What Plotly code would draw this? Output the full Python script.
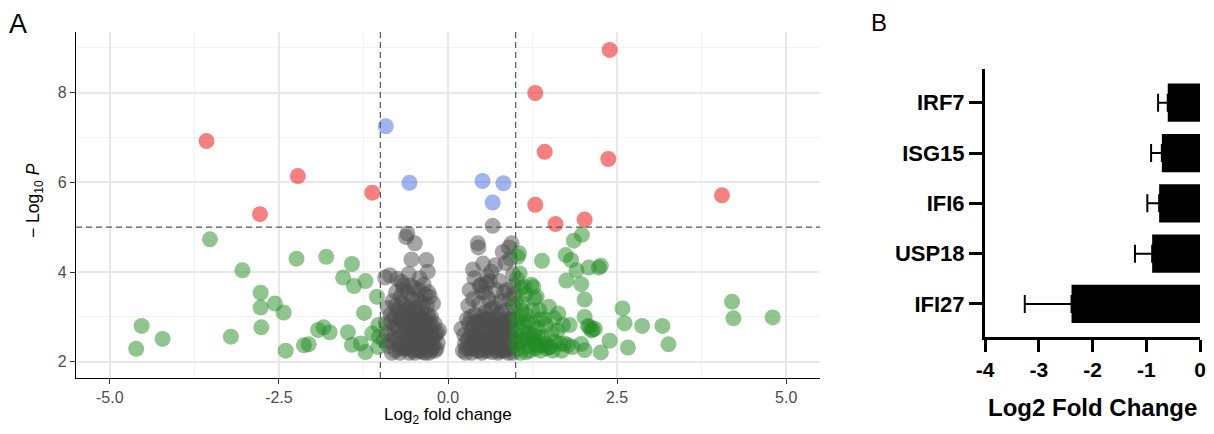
import plotly.graph_objects as go

# The page body has an 8px margin; the figure is sized so that it fits the window,
# and reference pixel positions are converted with an 8px offset.
OFF = 8
W, H = 1214 - 2 * OFF, 434 - 2 * OFF


def px(X):
    return (X - OFF) / W


def py(Y):
    return 1 - (Y - OFF) / H


# ---------------- Panel A: volcano data ----------------
red_x = [-3.57, -2.22, -2.78, -1.12, 2.39, 1.29, 1.43, 2.37, 4.05, 1.29, 1.59, 2.02]
red_y = [6.92, 6.14, 5.29, 5.77, 8.95, 7.99, 6.68, 6.52, 5.71, 5.50, 5.07, 5.17]

blue_x = [-0.92, -0.57, 0.51, 0.82, 0.66]
blue_y = [7.25, 5.99, 6.03, 5.98, 5.55]

green_x = [-3.52, -3.04, -2.24, -1.80, -1.42, -1.55, -1.39, -1.22, -1.05, -2.77,
           -2.77, -2.56, -2.43, -2.76, -3.21, -4.53, -4.22, -4.61, -2.40, -2.13,
           -2.06, -1.92, -1.84, -1.75, -1.48, -1.24, -1.42, -1.29, -1.22, -1.12,
           -1.03, -1.03, -1.02,
           1.98, 1.86, 1.74, 1.82, 1.39, 1.90, 2.08, 2.23, 2.26, 1.75,
           1.97, 2.02, 2.58, 2.61, 2.87, 3.17, 3.26, 2.66, 2.39, 2.26,
           4.20, 4.22, 4.80, 2.02, 2.09, 2.14, 2.02, 1.77, 1.80, 1.57,
           1.63, 1.49, 1.53, 1.51, 1.38, 1.35, 1.28, 1.26, 1.13, 1.23,
           1.06, 1.03, 1.05, 1.11, 1.16, 1.02, 1.06, 1.22, 1.29, 1.45,
           1.70, 1.66, 1.84, 1.97, 2.12, 2.07, 1.04, 1.10, 1.18, 1.32,
           1.40, 1.25, 1.08, 1.14, 1.20, 1.58, 1.44, 1.02, 1.36, 1.12,
           1.31, 1.16, 1.72, 1.50, 1.08, 1.31, 2.17,
           1.00, 1.03, 1.07, 1.09, 1.13, 1.15, 1.19, 1.21, 1.24, 1.27,
           1.30, 1.33, 1.37, 1.42, 1.46, 1.55, 1.62, 1.68, 1.00, 1.01]
green_y = [4.73, 4.04, 4.30, 4.34, 4.18, 3.88, 3.69, 3.80, 3.45, 3.54,
           3.21, 3.30, 3.10, 2.77, 2.56, 2.80, 2.51, 2.29, 2.25, 2.37,
           2.39, 2.71, 2.77, 2.66, 2.66, 3.09, 2.38, 2.41, 2.22, 2.63,
           2.82, 2.33, 2.56,
           4.83, 4.70, 4.38, 4.27, 4.25, 4.04, 4.10, 4.10, 4.14, 3.81,
           3.73, 3.39, 3.19, 2.86, 2.80, 2.80, 2.39, 2.32, 2.47, 2.21,
           3.34, 2.97, 2.99, 3.00, 2.78, 2.72, 2.26, 2.37, 2.82, 2.97,
           3.08, 3.23, 2.63, 2.33, 2.37, 3.15, 3.41, 3.67, 3.67, 3.72,
           3.97, 4.34, 4.42, 2.67, 2.22, 2.60, 3.00, 2.53, 2.46, 2.82,
           2.82, 2.40, 2.33, 2.40, 2.70, 2.80, 2.30, 3.30, 2.90, 2.75,
           2.55, 3.15, 2.45, 3.50, 2.35, 2.45, 2.40, 3.85, 2.95, 2.85,
           3.45, 2.52, 2.41, 2.33, 3.64, 2.37, 2.74,
           2.40, 2.75, 2.20, 3.15, 2.50, 3.05, 2.65, 2.25, 2.85, 2.60,
           2.30, 2.55, 2.25, 2.95, 2.30, 2.25, 2.70, 2.25, 3.30, 2.95]

grey_x = [-0.60, -0.62, -0.49, -0.54, -0.32, -0.30, -0.42, -0.86, -0.93, -0.69,
          -0.27, -0.58, -0.66, -0.75, -0.50, -0.36, -0.22,
          -0.95, -0.90, -0.88, -0.85, -0.82, -0.80, -0.78, -0.76, -0.74, -0.72,
          -0.70, -0.69, -0.67, -0.65, -0.64, -0.62, -0.60, -0.59, -0.57, -0.56,
          -0.54, -0.53, -0.51, -0.50, -0.48, -0.47, -0.45, -0.44, -0.42, -0.41,
          -0.39, -0.38, -0.36, -0.35, -0.33, -0.31, -0.30, -0.28, -0.27, -0.25,
          -0.23, -0.22, -0.20, -0.18, -0.15, -0.13, -0.84, -0.71, -0.66, -0.58,
          -0.46, -0.40, -0.34, -0.52, -0.63, -0.77, -0.89, -0.92, -0.43, -0.55,
          -0.29, -0.24, -0.37, -0.49, -0.61, -0.73, -0.86, -0.79, -0.68, -0.57,
          -0.45, -0.33, -0.26, -0.17,
          -0.83, -0.81, -0.77, -0.74, -0.71, -0.70, -0.67, -0.65, -0.63, -0.61,
          -0.59, -0.56, -0.55, -0.53, -0.51, -0.49, -0.47, -0.46, -0.44, -0.43,
          -0.41, -0.40, -0.38, -0.37, -0.35, -0.34, -0.32, -0.30, -0.29, -0.28,
          -0.26, -0.24, -0.21, -0.19, -0.16, -0.60, -0.52, -0.48, -0.39, -0.31,
          0.66, 0.44, 0.45, 0.94, 0.90, 0.81, 0.52, 0.37, 0.39, 0.64,
          0.76, 0.32, 0.85, 0.58, 0.70, 0.92, 0.47, 0.96, 0.55,
          0.20, 0.25, 0.22, 0.28, 0.30, 0.33, 0.35, 0.37, 0.38, 0.40,
          0.42, 0.44, 0.46, 0.48, 0.50, 0.51, 0.53, 0.55, 0.56, 0.58,
          0.60, 0.61, 0.63, 0.65, 0.66, 0.68, 0.70, 0.71, 0.73, 0.75,
          0.76, 0.78, 0.80, 0.81, 0.83, 0.85, 0.86, 0.88, 0.90, 0.91,
          0.93, 0.95, 0.97, 0.98, 0.27, 0.34, 0.41, 0.49, 0.57, 0.62,
          0.69, 0.74, 0.79, 0.84, 0.87, 0.92, 0.96, 0.43, 0.52, 0.59,
          0.64, 0.72, 0.77, 0.82, 0.89, 0.94, 0.36, 0.47, 0.67, 0.54, 0.98,
          0.24, 0.26, 0.29, 0.31, 0.32, 0.35, 0.37, 0.39, 0.41, 0.43,
          0.45, 0.47, 0.49, 0.50, 0.52, 0.54, 0.56, 0.57, 0.59, 0.60,
          0.62, 0.63, 0.65, 0.67, 0.69, 0.70, 0.72, 0.73, 0.75, 0.77,
          0.78, 0.80, 0.82, 0.84, 0.86, 0.88, 0.90, 0.92, 0.94, 0.96]
grey_y = [4.86, 4.78, 4.64, 4.28, 4.27, 4.01, 3.86, 3.93, 3.88, 3.78,
          3.45, 3.96, 3.70, 3.85, 3.65, 3.72, 3.30,
          2.48, 2.65, 2.35, 3.05, 3.35, 2.55, 2.25, 2.80, 3.15, 2.40,
          3.45, 2.95, 2.60, 2.30, 3.25, 2.75, 3.55, 2.45, 2.20, 3.05,
          2.85, 3.40, 2.55, 2.35, 3.20, 2.70, 2.95, 2.25, 3.35, 2.50,
          2.80, 3.10, 2.35, 2.62, 2.90, 3.25, 2.45, 2.20, 2.75, 3.00,
          2.55, 2.35, 2.85, 2.60, 2.42, 2.70, 2.90, 2.20, 3.60, 2.62,
          2.45, 2.30, 3.50, 2.25, 2.50, 3.55, 3.20, 2.85, 3.60, 3.70,
          3.55, 2.30, 2.22, 2.90, 2.88, 2.68, 2.45, 3.00, 3.30, 3.20,
          3.10, 2.55, 2.60, 2.30,
          2.20, 2.75, 3.25, 2.50, 2.95, 2.30, 3.10, 2.85, 2.30, 3.15,
          2.95, 2.50, 2.30, 2.70, 3.10, 2.20, 2.50, 3.40, 2.70, 3.00,
          2.25, 2.95, 2.55, 3.30, 2.90, 2.20, 2.70, 3.05, 2.40, 2.95,
          2.25, 2.80, 2.55, 2.25, 2.65, 2.35, 2.60, 2.80, 2.40, 2.60,
          5.03, 4.64, 4.55, 4.64, 4.55, 4.45, 4.19, 4.06, 3.86, 4.01,
          3.80, 3.60, 4.20, 3.90, 4.15, 4.30, 3.70, 3.95, 3.55,
          2.74, 2.41, 2.25, 2.95, 3.25, 2.55, 2.20, 3.40, 2.80, 3.05,
          2.35, 2.62, 3.30, 2.90, 2.20, 3.55, 2.50, 3.10, 2.75, 2.30,
          3.40, 2.95, 2.60, 2.22, 3.20, 2.45, 2.85, 3.60, 2.35, 3.05,
          2.65, 3.35, 2.25, 2.90, 3.55, 2.50, 3.15, 2.75, 2.30, 3.40,
          2.60, 2.95, 3.70, 2.40, 2.30, 3.00, 2.60, 3.70, 3.75, 3.80,
          3.30, 2.20, 2.55, 2.30, 3.60, 2.90, 3.25, 2.85, 2.40, 2.55,
          2.85, 2.65, 2.95, 2.70, 2.20, 2.50, 2.45, 2.25, 2.55, 2.95, 3.50,
          2.60, 2.20, 2.50, 2.85, 2.30, 2.70, 2.30, 2.60, 2.90, 2.25,
          2.50, 2.80, 2.40, 3.00, 2.65, 2.25, 2.50, 2.95, 2.25, 2.70,
          2.40, 3.15, 2.75, 2.35, 2.95, 2.55, 2.25, 2.80, 2.45, 2.25,
          2.70, 3.10, 2.45, 2.85, 2.25, 2.55, 2.95, 2.35, 2.75, 2.20]

fc_cut = 1.0
p_cut = 5.0

# ---------------- Panel B: bar data ----------------
genes = ["IRF7", "ISG15", "IFI6", "USP18", "IFI27"]
log2fc = [-0.60, -0.71, -0.76, -0.89, -2.39]
err = [0.18, 0.20, 0.22, 0.32, 0.87]
bar_ticks = [-4, -3, -2, -1, 0]
bar_ticktext = ["-4", "-3", "-2", "-1", "0"]

FONT = "Liberation Sans, Arial, sans-serif"

fig = go.Figure()

MS = 16
for xs, ys, col in [(grey_x, grey_y, "#4D4D4D"),
                    (green_x, green_y, "#228B22"),
                    (blue_x, blue_y, "#4169E1"),
                    (red_x, red_y, "#EE0000")]:
    fig.add_trace(go.Scatter(x=xs, y=ys, mode="markers", xaxis="x", yaxis="y",
                             marker=dict(size=MS, color=col, opacity=0.5, line=dict(width=0)),
                             showlegend=False, hoverinfo="skip"))

fig.add_trace(go.Bar(y=genes, x=log2fc, orientation="h", xaxis="x2", yaxis="y2",
                     marker=dict(color="black", line=dict(width=0)), width=0.76,
                     error_x=dict(type="data", symmetric=False, array=[0] * len(err),
                                  arrayminus=err, color="black", thickness=2, width=9),
                     showlegend=False, hoverinfo="skip"))

# threshold lines
dash = "6px,4px"
for xv in (-fc_cut, fc_cut):
    fig.add_shape(type="line", xref="x", yref="y domain", x0=xv, x1=xv, y0=0, y1=1,
                  line=dict(color="#555555", width=1.2, dash=dash))
fig.add_shape(type="line", xref="x domain", yref="y", x0=0, x1=1, y0=p_cut, y1=p_cut,
              line=dict(color="#555555", width=1.2, dash=dash))

grid_major = "#E8E8E8"
grid_minor = "#F2F2F2"
tickfont_a = dict(family=FONT, size=16, color="#4D4D4D")

fig.update_layout(
    width=W, height=H, margin=dict(l=0, r=0, t=0, b=0, pad=0, autoexpand=False),
    paper_bgcolor="white", plot_bgcolor="white",
    font=dict(family=FONT, color="black"),
    xaxis=dict(domain=[px(76), px(820)], range=[-5.5, 5.5], automargin=False,
               tickvals=[-5, -2.5, 0, 2.5, 5], ticktext=["-5.0", "-2.5", "0.0", "2.5", "5.0"],
               showgrid=True, gridcolor=grid_major, gridwidth=2,
               minor=dict(tick0=0, dtick=1.25, showgrid=True, gridcolor=grid_minor, gridwidth=1, ticks=""),
               zeroline=False, showline=True, linecolor="black", linewidth=1.3,
               ticks="outside", ticklen=5, tickcolor="#333333", tickwidth=1.2,
               tickfont=tickfont_a, anchor="y"),
    yaxis=dict(domain=[py(378), py(32)], range=[1.64, 9.35], automargin=False,
               tickvals=[2, 4, 6, 8],
               showgrid=True, gridcolor=grid_major, gridwidth=2,
               minor=dict(tick0=0, dtick=1, showgrid=True, gridcolor=grid_minor, gridwidth=1, ticks=""),
               zeroline=False, showline=True, linecolor="black", linewidth=1.3,
               ticks="outside", ticklen=5, tickcolor="#333333", tickwidth=1.2,
               tickfont=tickfont_a, anchor="x"),
    xaxis2=dict(domain=[px(985), px(1200)], range=[-4, 0], automargin=False,
                tickvals=bar_ticks, ticktext=bar_ticktext,
                showgrid=False, zeroline=False, showline=True, linecolor="black", linewidth=3,
                ticks="outside", ticklen=12, tickwidth=3, tickcolor="black",
                tickfont=dict(family=FONT, size=21, color="black", weight="bold"),
                anchor="y2"),
    yaxis2=dict(domain=[py(336.7), py(69)], type="category", automargin=False,
                categoryorder="array", categoryarray=genes, range=[4.65, -0.67],
                showgrid=False, zeroline=False, showline=True, linecolor="black", linewidth=3,
                ticks="outside", ticklen=13, tickwidth=3, tickcolor="black",
                tickfont=dict(family=FONT, size=22, color="black", weight="bold"),
                anchor="x2"),
)

fig.add_annotation(text="Log<sub>2</sub> fold change", xref="paper", yref="paper",
                   x=px(448), y=py(416), xanchor="center", yanchor="middle", showarrow=False,
                   borderpad=0, font=dict(size=17, color="black", family=FONT))
fig.add_annotation(text="\u2212 Log<sub>10</sub> <i>P</i>", xref="paper", yref="paper",
                   x=px(34), y=py(201), xanchor="center", yanchor="middle", textangle=-90,
                   showarrow=False, borderpad=0, font=dict(size=17.5, color="black", family=FONT))
fig.add_annotation(text="Log2 Fold Change", xref="paper", yref="paper",
                   x=px(1092.5), y=py(407), xanchor="center", yanchor="middle", showarrow=False,
                   borderpad=0, font=dict(size=24, color="black", family=FONT, weight="bold"))
fig.add_annotation(text="A", xref="paper", yref="paper", x=px(17.8), y=1,
                   xanchor="center", yanchor="top", showarrow=False, borderpad=0,
                   font=dict(size=27, color="black", family=FONT))
fig.add_annotation(text="B", xref="paper", yref="paper", x=px(879), y=1,
                   xanchor="center", yanchor="top", showarrow=False, borderpad=0,
                   font=dict(size=24, color="black", family=FONT))

fig.write_html("out.html")
